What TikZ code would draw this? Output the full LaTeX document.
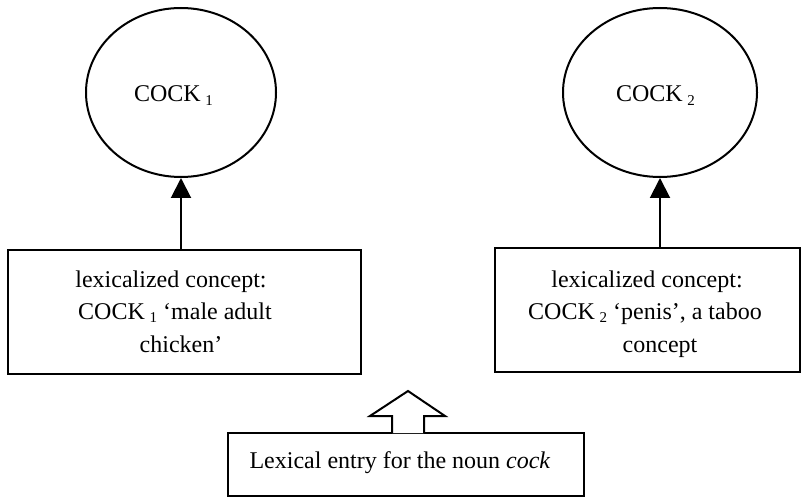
\documentclass[tikz,border=0pt]{standalone}
\usepackage{fontspec}
\setmainfont{Liberation Serif}
\usetikzlibrary{shapes.geometric,arrows.meta,calc}
\newcommand\cksub[1]{\hspace{0.2em}\raisebox{-3.5pt}{\fontsize{15}{15}\selectfont #1}}
\begin{document}
\begin{tikzpicture}[x=1pt,y=-1pt,line width=2pt,
  concept/.style={draw,ellipse,inner sep=0pt,minimum height=169pt},
  box/.style={draw,rectangle,inner sep=0pt},
  lbl/.style={font=\fontsize{24}{32}\selectfont,inner sep=0pt},
  up/.style={-{Triangle[width=20pt,length=20pt]}}]
\useasboundingbox (0,0) rectangle (803,497);
% concepts
\node[concept,minimum width=190pt] (e1) at (181,92.5) {};
\node[concept,minimum width=194pt] (e2) at (660,92.5) {};
\node[lbl,anchor=base west] (t1) at (133,102) {COCK\cksub{1}};
\node[lbl,anchor=base west] (t2) at (615,102) {COCK\cksub{2}};
% boxes
\node[box,minimum width=353pt,minimum height=124pt] (b1) at (184.5,312) {};
\node[box,minimum width=305pt,minimum height=124pt] (b2) at (647.5,310) {};
\node[box,minimum width=356pt,minimum height=63pt] (b3) at (406,464.5) {};
% box texts
\node[lbl,anchor=base] (l11) at (171,287) {lexicalized concept:};
\node[lbl,anchor=base] (l12) at (175,319) {COCK\cksub{1} ‘male adult};
\node[lbl,anchor=base] (l13) at (181,352) {chicken’};
\node[lbl,anchor=base] (l21) at (647,287) {lexicalized concept:};
\node[lbl,anchor=base] (l22) at (645,319) {COCK\cksub{2} ‘penis’, a taboo};
\node[lbl,anchor=base] (l23) at (660,352) {concept};
\node[lbl,anchor=base] (l31) at (400,468) {Lexical entry for the noun \textit{cock}};
% arrows
\draw[up] (b1.north -| e1.south) -- (e1.south);
\draw[up] (b2.north -| e2.south) -- (e2.south);
% block arrow
\draw[fill=white,line join=miter] ($(b3.north)+(-14,1.2)$) -- ++(0,-17.2) -- ++(-22,0)
  -- ++(38,-25) -- ++(37,25) -- ++(-21,0) -- ++(0,17.2);
\end{tikzpicture}
\end{document}
